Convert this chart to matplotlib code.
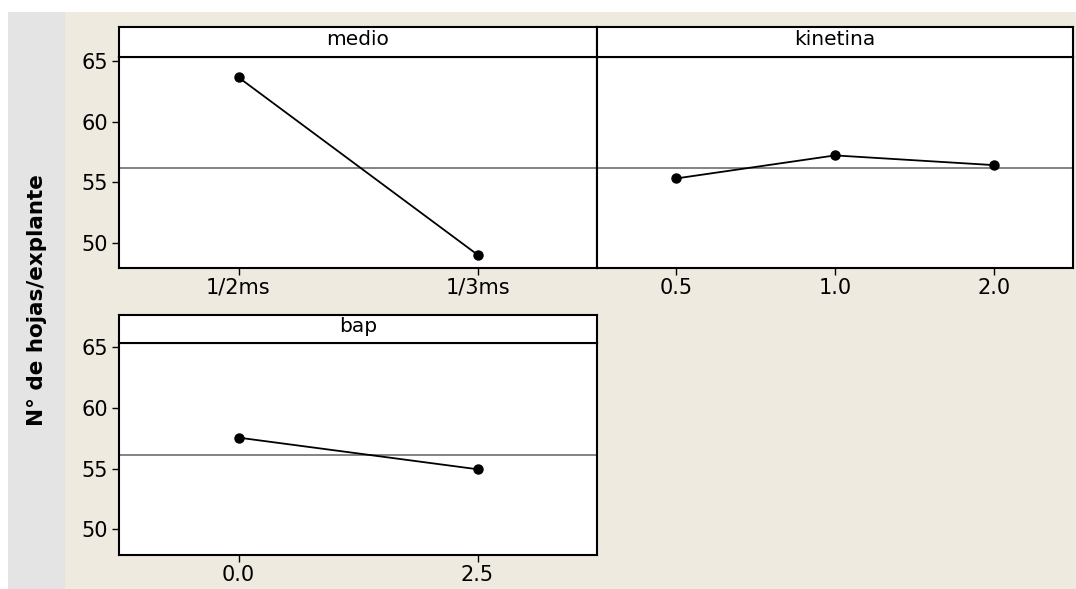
import matplotlib
matplotlib.use("Agg")
import matplotlib.pyplot as plt
from matplotlib.patches import Rectangle

# ---- data ----
medio_levels = ["1/2ms", "1/3ms"]
medio_means = [63.65, 49.0]
kinetina_levels = ["0.5", "1.0", "2.0"]
kinetina_means = [55.3, 57.2, 56.4]
bap_levels = ["0.0", "2.5"]
bap_means = [57.55, 54.95]
grand_mean = 56.15
y_ticks = [50, 55, 60, 65]
y_label = "N° de hojas/explante"

W, H = 1076, 589
fig = plt.figure(figsize=(W / 100, H / 100), dpi=100)
fig.patch.set_facecolor("white")

BEIGE = "#EEEAE0"
GREY = "#E4E4E4"

def fx(px):
    return px / W

def fy(py):
    return 1 - py / H

# background rectangles
fig.patches.append(Rectangle((fx(8), 0), fx(65) - fx(8), fy(12), transform=fig.transFigure,
                             facecolor=GREY, edgecolor="none", zorder=-10))
fig.patches.append(Rectangle((fx(65), 0), 1 - fx(65), fy(12), transform=fig.transFigure,
                             facecolor=BEIGE, edgecolor="none", zorder=-10))

FS_TICK = 15
FS_STRIP = 14.5
FS_LABEL = 15.5
YLIM = (47.9, 65.33)

def panel(x0, x1, strip_top, strip_bot, y_bot, title, levels, means, show_y):
    ax = fig.add_axes([fx(x0), fy(y_bot), fx(x1) - fx(x0), fy(strip_bot) - fy(y_bot)])
    ax.set_facecolor("white")
    xs = list(range(len(levels)))
    ax.axhline(grand_mean, color="#6E6E6E", lw=1.2, zorder=1)
    ax.plot(xs, means, color="black", lw=1.3, marker="o", markersize=6.5, zorder=3)
    ax.set_xlim(-0.5, len(levels) - 0.5)
    ax.set_ylim(*YLIM)
    ax.set_xticks(xs)
    ax.set_xticklabels(levels, fontsize=FS_TICK)
    if show_y:
        ax.set_yticks(y_ticks)
        ax.set_yticklabels([str(t) for t in y_ticks], fontsize=FS_TICK)
        ax.tick_params(axis="y", length=5, width=1.0, pad=3, direction="out")
    else:
        ax.set_yticks([])
    ax.tick_params(axis="x", length=5, width=1.0, pad=2, direction="out")
    for s in ax.spines.values():
        s.set_linewidth(1.5)
        s.set_color("black")
    # strip
    sx = fig.add_axes([fx(x0), fy(strip_bot), fx(x1) - fx(x0), fy(strip_top) - fy(strip_bot)])
    sx.set_facecolor("white")
    sx.set_xticks([])
    sx.set_yticks([])
    for s in sx.spines.values():
        s.set_linewidth(1.5)
        s.set_color("black")
    sx.text(0.5, 0.58, title, ha="center", va="center", fontsize=FS_STRIP, transform=sx.transAxes)
    return ax

panel(119, 597, 27, 57, 268, "medio", medio_levels, medio_means, True)
panel(597, 1073, 27, 57, 268, "kinetina", kinetina_levels, kinetina_means, False)
panel(119, 597, 315, 343, 555, "bap", bap_levels, bap_means, True)

fig.text(fx(37), fy(300), y_label, rotation=90, ha="center", va="center",
         fontsize=FS_LABEL, fontweight="bold")

fig.savefig("out.png", dpi=100, facecolor=fig.get_facecolor())
